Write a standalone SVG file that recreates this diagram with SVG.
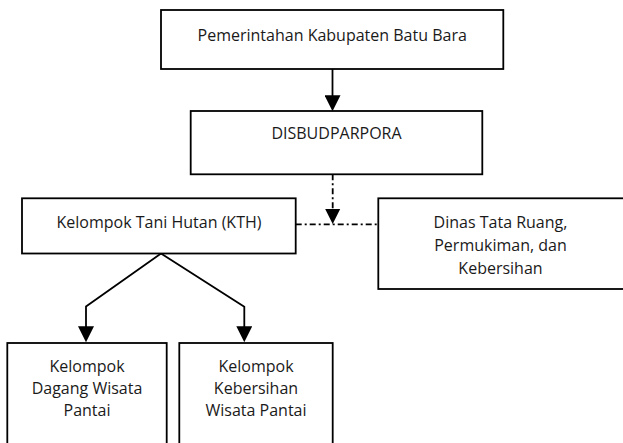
<svg xmlns="http://www.w3.org/2000/svg" width="623" height="443" viewBox="0 0 623 443">
  <style>
    .box { fill: #ffffff; stroke: #000000; stroke-width: 1.8; }
    .lbl { font-family: "Open Sans", "Liberation Sans", sans-serif; font-size: 16px; fill: #1a1a1a; text-anchor: middle; }
    .conn { fill: none; stroke: #000000; stroke-width: 1.8; }
    .dash { stroke-dasharray: 6 3 2 3; }
  </style>
  <defs>
    <marker id="arrow" markerUnits="userSpaceOnUse" markerWidth="16" markerHeight="16" viewBox="0 0 15 15" refX="12" refY="7.5" orient="auto">
      <path d="M0,0 L15,7.5 L0,15 Z" fill="#000000"/>
    </marker>
  </defs>
  <rect width="623" height="443" fill="#ffffff"/>

  <g id="connectors">
    <path class="conn" d="M332.5,69 V108" marker-end="url(#arrow)"/>
    <path class="conn dash" d="M332.7,174.3 V209"/>
    <path d="M325.2,209 L340.2,209 L332.7,224 Z" fill="#000000"/>
    <path class="conn dash" d="M295.7,224.3 H378.3"/>
    <path class="conn" d="M161,253.5 L86,306.5 V339" marker-end="url(#arrow)"/>
    <path class="conn" d="M161,253.5 L244.3,306.7 V339" marker-end="url(#arrow)"/>
  </g>

  <g id="node-pemerintahan">
    <rect class="box" x="161" y="10" width="342.3" height="59"/>
    <text class="lbl" x="332.2" y="40.7">Pemerintahan Kabupaten Batu Bara</text>
  </g>

  <g id="node-disbudparpora">
    <rect class="box" x="190.7" y="111" width="291.6" height="63.3"/>
    <text class="lbl" x="336.5" y="139.3">DISBUDPARPORA</text>
  </g>

  <g id="node-kth">
    <rect class="box" x="22" y="198.3" width="273.7" height="55.2"/>
    <text class="lbl" x="159" y="227.5">Kelompok Tani Hutan (KTH)</text>
  </g>

  <g id="node-dinas">
    <rect class="box" x="378.3" y="198.3" width="246" height="90.7"/>
    <text class="lbl" x="500.5" y="228.3">Dinas Tata Ruang,</text>
    <text class="lbl" x="500.5" y="251">Permukiman, dan</text>
    <text class="lbl" x="500.5" y="273.5">Kebersihan</text>
  </g>

  <g id="node-dagang">
    <rect class="box" x="7.3" y="343" width="159.4" height="110"/>
    <text class="lbl" x="87" y="371.7">Kelompok</text>
    <text class="lbl" x="87" y="393.7">Dagang Wisata</text>
    <text class="lbl" x="87" y="416">Pantai</text>
  </g>

  <g id="node-kebersihan">
    <rect class="box" x="179.3" y="343" width="153.4" height="110"/>
    <text class="lbl" x="256" y="371.7">Kelompok</text>
    <text class="lbl" x="256" y="393.7">Kebersihan</text>
    <text class="lbl" x="256" y="416">Wisata Pantai</text>
  </g>
</svg>
